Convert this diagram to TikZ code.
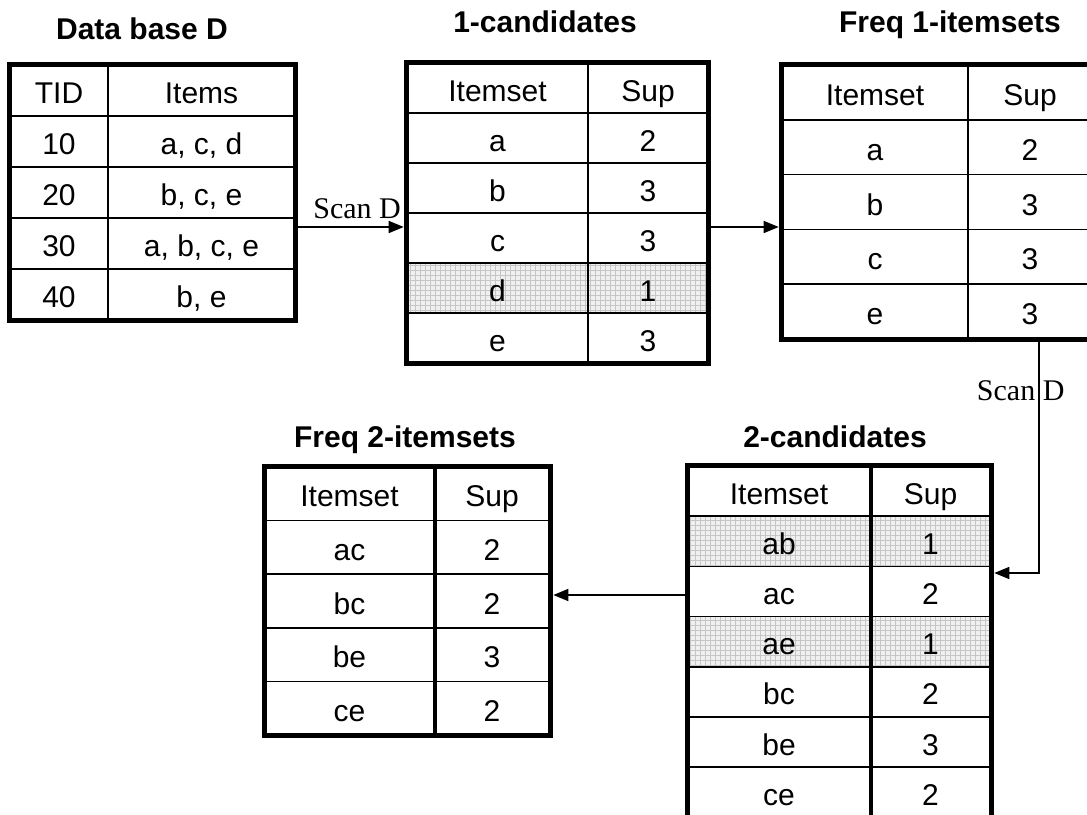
\documentclass[tikz,border=0pt]{standalone}
\usepackage{fontspec}
\setmainfont{Liberation Sans}
\newfontfamily\scanserif{Liberation Serif}
\usepackage{tikz}
\usetikzlibrary{arrows.meta,backgrounds}

\newcommand{\cellfont}{\fontsize{30pt}{36pt}\selectfont}
\newcommand{\headfont}{\fontsize{30pt}{36pt}\selectfont\bfseries}
\newcommand{\scanfont}{\scanserif\fontsize{30pt}{36pt}\selectfont}

\tikzset{
  cell/.style={draw, line width=1.6pt, inner sep=0pt, font=\cellfont,
    text height=26pt, text depth=0pt},
  frame/.style={line width=5pt},
  divider/.style={line width=4pt},
  title/.style={font=\headfont, anchor=base, inner sep=0pt},
  scan/.style={font=\scanfont, inner sep=0pt},
  arr/.style={line width=1.5pt, -{Triangle[length=15pt,width=12pt]}},
  pruned/.style={fill=gray!12, path picture={
    \draw[gray!45, line width=0.5pt, step=5pt]
      (path picture bounding box.south west) grid (path picture bounding box.north east);}}
}

\begin{document}
\begin{tikzpicture}[x=1pt, y=-1pt]
    \useasboundingbox (0,0) rectangle (1087,814);

    % titles
    \node[title] (t-db) at (142,39) {Data base D};
    \node[title] (t-c1) at (545,32) {1-candidates};
    \node[title] (t-f1) at (950,32) {Freq 1-itemsets};
    \node[title] (t-f2) at (405,447) {Freq 2-itemsets};
    \node[title] (t-c2) at (835,447) {2-candidates};

    % data base D
    \foreach \tid/\items [count=\i from 0] in {TID/Items, 10/{a, c, d}, 20/{b, c, e}, 30/{a, b, c, e}, 40/{b, e}} {
        \node[cell, minimum width=98pt, minimum height=51pt] (db-\i-a) at (59,{90.5+51*\i}) {\tid};
        \node[cell, minimum width=187pt, minimum height=51pt] (db-\i-b) at (201.5,{90.5+51*\i}) {\items};
    }
    \draw[frame] (db-0-a.north west) rectangle (db-4-b.south east);

    % 1-candidates
    \foreach \set/\sup [count=\i from 0] in {Itemset/Sup, a/2, b/3, c/3, d/1, e/3} {
        \node[cell, minimum width=181pt, minimum height=50pt] (c1-\i-a) at (497.5,{88+50*\i}) {\set};
        \node[cell, minimum width=120pt, minimum height=50pt] (c1-\i-b) at (648,{88+50*\i}) {\sup};
    }
    \draw[frame] (c1-0-a.north west) rectangle (c1-5-b.south east);

    % frequent 1-itemsets
    \foreach \set/\sup [count=\i from 0] in {Itemset/Sup, a/2, b/3, c/3, e/3} {
        \node[cell, minimum width=186pt, minimum height=54.8pt] (f1-\i-a) at (875,{92.4+54.8*\i}) {\set};
        \node[cell, minimum width=124pt, minimum height=54.8pt] (f1-\i-b) at (1030,{92.4+54.8*\i}) {\sup};
    }
    \draw[frame] (f1-0-a.north west) rectangle (f1-4-b.south east);

    % 2-candidates
    \foreach \set/\sup [count=\i from 0] in {Itemset/Sup, ab/1, ac/2, ae/1, bc/2, be/3, ce/2} {
        \node[cell, minimum width=182pt, minimum height=50.2pt] (c2-\i-a) at (779,{491.1+50.2*\i}) {\set};
        \node[cell, minimum width=121pt, minimum height=50.2pt] (c2-\i-b) at (930.5,{491.1+50.2*\i}) {\sup};
    }
    \draw[divider] (c2-0-a.north east) -- (c2-6-a.south east);
    \draw[frame] (c2-0-a.north west) rectangle (c2-6-b.south east);

    % frequent 2-itemsets
    \foreach \set/\sup [count=\i from 0] in {Itemset/Sup, ac/2, bc/2, be/3, ce/2} {
        \node[cell, minimum width=169pt, minimum height=53.6pt] (f2-\i-a) at (349.5,{493.8+53.6*\i}) {\set};
        \node[cell, minimum width=116pt, minimum height=53.6pt] (f2-\i-b) at (492,{493.8+53.6*\i}) {\sup};
    }
    \draw[divider] (f2-0-a.north east) -- (f2-4-a.south east);
    \draw[frame] (f2-0-a.north west) rectangle (f2-4-b.south east);

    % rows under min support
    \begin{scope}[on background layer]
        \path[pruned] (c1-4-a.north west) rectangle (c1-4-b.south east);
        \path[pruned] (c2-1-a.north west) rectangle (c2-1-b.south east);
        \path[pruned] (c2-3-a.north west) rectangle (c2-3-b.south east);
    \end{scope}

    % scans and pruning steps
    \coordinate (y1) at (0,227);
    \coordinate (k3) at (1039,573);
    \coordinate (y4) at (0,595);
    \draw[arr, shorten >=2.5pt] (db-3-b.east |- y1) -- (c1-3-a.west |- y1);
    \draw[arr, shorten >=2.5pt] (c1-3-b.east |- y1) -- (f1-3-a.west |- y1);
    \draw[arr, shorten >=2.5pt] (f1-4-b.south -| k3) -- (k3) -- (c2-2-b.east |- k3);
    \draw[arr, shorten >=2.5pt] (c2-2-a.west |- y4) -- (f2-2-b.east |- y4);

    \node[scan, anchor=base east] (scan1) at (401,218) {Scan D};
    \node[scan, anchor=base] (scan2) at (1020.7,400) {Scan D};
\end{tikzpicture}
\end{document}
